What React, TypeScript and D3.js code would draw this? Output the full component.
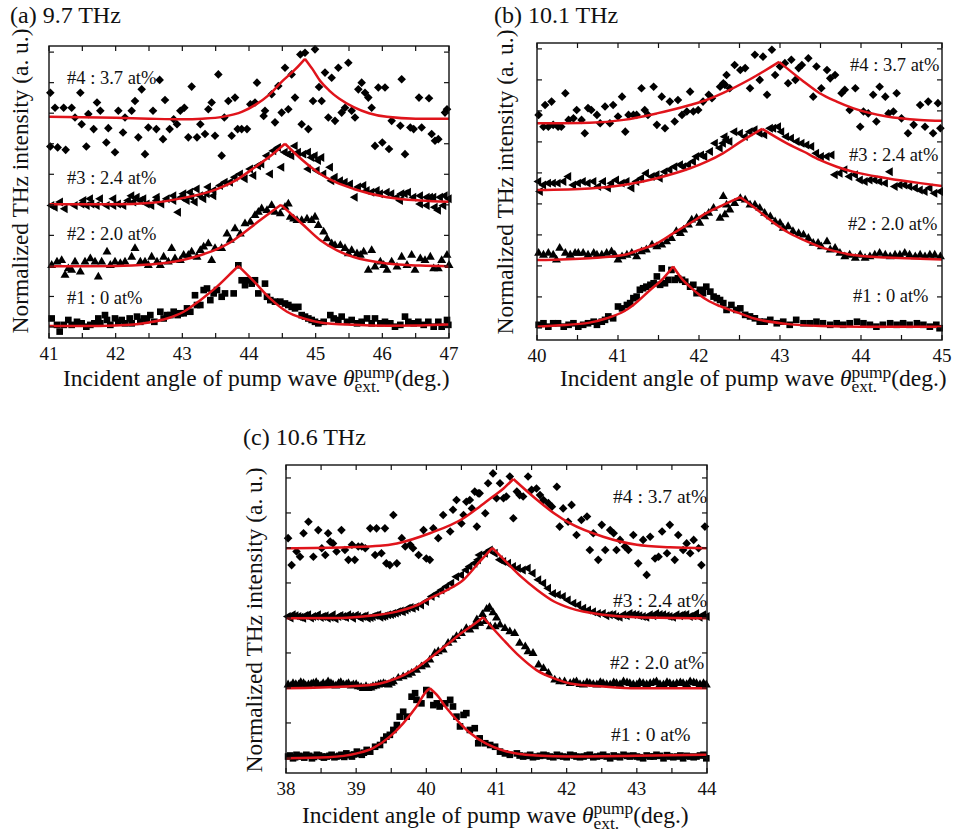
import React from "react";
import * as d3 from "d3";

type Pt = [number, number];

// ---------------- Panel (a) 9.7 THz ----------------
const a1: Pt[] = [[41.04,0.28],[41.12,0.07],[41.16,-0.15],[41.22,0.07],[41.29,0.23],[41.34,0.07],[41.42,0.17],[41.49,0.12],[41.56,0.01],[41.62,0.07],[41.68,0.12],[41.74,0.28],[41.77,0.12],[41.84,0.39],[41.87,0.23],[41.92,0.07],[41.99,0.28],[42.04,0.17],[42.09,0.23],[42.14,0.12],[42.21,0.28],[42.24,0.12],[42.32,0.34],[42.37,0.17],[42.42,0.28],[42.47,0.23],[42.52,0.39],[42.58,0.17],[42.67,0.5],[42.72,0.28],[42.77,0.39],[42.82,0.39],[42.87,0.5],[42.93,0.39],[42.97,0.45],[43.02,0.45],[43.07,0.61],[43.12,0.5],[43.19,1.04],[43.22,0.72],[43.27,0.72],[43.32,1.21],[43.37,1.26],[43.42,0.88],[43.47,1.1],[43.52,1.21],[43.59,0.99],[43.64,1.1],[43.77,1.1],[43.84,2.02],[43.89,1.53],[43.94,1.37],[43.99,1.53],[44.04,1.42],[44.09,1.53],[44.14,1.1],[44.24,1.42],[44.27,0.99],[44.32,0.88],[44.39,0.83],[44.47,0.83],[44.54,0.77],[44.59,0.72],[44.64,0.66],[44.69,0.61],[44.74,0.66],[44.79,0.39],[44.84,0.34],[44.89,0.28],[44.94,0.23],[44.99,0.17],[45.04,0.12],[45.12,0.17],[45.22,0.39],[45.27,0.28],[45.34,0.23],[45.39,0.34],[45.47,0.17],[45.54,0.23],[45.62,0.12],[45.69,0.17],[45.77,0.28],[45.84,0.12],[45.89,0.28],[45.97,0.12],[46.04,0.17],[46.12,0.12],[46.19,0.01],[46.27,0.07],[46.34,0.34],[46.39,0.17],[46.47,0.12],[46.54,0.17],[46.62,0.07],[46.69,0.17],[46.77,0.01],[46.84,0.17],[46.89,0.01],[46.97,0.23],[46.99,0.07]];
const a1FitL: Pt[] = [[41,0.03],[41.5,0.03],[42,0.05],[42.5,0.15],[42.77,0.28],[43.02,0.5],[43.27,0.88],[43.52,1.32],[43.77,1.85],[43.84,2.0]];
const a1FitR: Pt[] = [[43.84,2.0],[44.07,1.5],[44.32,0.93],[44.57,0.5],[44.82,0.28],[45.07,0.15],[45.57,0.07],[46.07,0.04],[46.57,0.05],[47,0.08]];

const a2: Pt[] = [[41.04,2.02],[41.12,2.13],[41.19,2.18],[41.24,1.7],[41.29,1.91],[41.34,1.86],[41.39,2.13],[41.47,1.8],[41.54,2.13],[41.62,2.24],[41.69,2.13],[41.74,1.64],[41.79,2.13],[41.87,2.46],[41.92,2.02],[41.99,2.13],[42.07,2.08],[42.14,2.13],[42.24,2.29],[42.29,2.57],[42.37,2.13],[42.44,2.13],[42.49,2.02],[42.54,2.29],[42.62,2.13],[42.67,2.02],[42.72,2.29],[42.79,2.13],[42.84,2.57],[42.89,2.24],[42.97,2.18],[43.02,2.35],[43.09,2.35],[43.14,2.46],[43.22,2.29],[43.27,2.51],[43.32,2.62],[43.39,2.73],[43.44,2.18],[43.49,2.57],[43.59,2.57],[43.67,3.05],[43.72,2.84],[43.79,3.22],[43.87,3.05],[43.94,3.38],[44.02,3.43],[44.09,3.65],[44.14,3.76],[44.19,3.87],[44.27,3.82],[44.34,3.98],[44.39,3.76],[44.47,3.71],[44.54,3.92],[44.59,4.03],[44.62,3.6],[44.67,3.54],[44.72,3.49],[44.79,3.49],[44.87,3.54],[44.94,3.49],[44.99,3.6],[45.04,3.33],[45.12,3.11],[45.17,2.89],[45.24,2.73],[45.29,2.67],[45.37,2.67],[45.44,2.57],[45.49,2.4],[45.54,2.51],[45.62,2.4],[45.67,2.35],[45.72,2.46],[45.79,1.86],[45.84,2.51],[45.89,1.97],[45.97,2.13],[46.02,2.02],[46.07,1.86],[46.14,2.13],[46.22,1.97],[46.29,2.29],[46.37,2.02],[46.44,2.35],[46.49,1.86],[46.57,2.24],[46.64,2.18],[46.72,2.29],[46.77,1.91],[46.84,1.91],[46.89,2.18],[46.97,2.35],[47.0,2.02]];
const a2FitL: Pt[] = [[41,1.99],[41.5,1.99],[42,2.0],[42.5,2.05],[42.77,2.1],[43.02,2.2],[43.27,2.35],[43.57,2.6],[43.77,2.84],[43.87,3.0],[44.17,3.5],[44.48,4.0]];
const a2FitR: Pt[] = [[44.48,4.0],[44.82,3.33],[45.07,2.84],[45.32,2.51],[45.57,2.29],[46.07,2.08],[46.57,2.01],[47,1.99]];

const a3: Pt[] = [[41.04,3.98],[41.09,3.92],[41.17,4.09],[41.24,3.87],[41.39,3.98],[41.49,4.03],[41.52,4.14],[41.57,3.98],[41.62,4.2],[41.64,4.03],[41.72,3.98],[41.77,4.2],[41.87,3.98],[41.97,3.98],[41.97,4.2],[42.04,4.03],[42.12,3.98],[42.19,4.14],[42.24,4.3],[42.27,4.09],[42.32,4.25],[42.37,4.14],[42.42,4.2],[42.47,4.03],[42.54,3.98],[42.62,4.14],[42.62,4.25],[42.69,4.03],[42.77,4.2],[42.87,4.14],[42.87,4.3],[42.94,3.76],[42.99,4.25],[43.02,4.36],[43.07,4.14],[43.12,4.41],[43.14,4.25],[43.19,4.09],[43.27,4.3],[43.32,4.2],[43.37,4.36],[43.47,4.3],[43.22,4.52],[43.39,4.58],[43.47,4.47],[43.57,4.63],[43.64,4.74],[43.72,4.74],[43.79,4.9],[43.87,5.01],[43.94,4.85],[44.02,5.17],[44.07,4.96],[44.14,5.28],[44.19,5.34],[44.27,5.61],[44.32,5.01],[44.37,5.77],[44.44,5.88],[44.49,5.23],[44.54,5.72],[44.59,5.66],[44.64,5.61],[44.69,5.93],[44.74,5.72],[44.82,5.66],[44.89,5.72],[44.94,5.55],[44.99,5.61],[45.04,5.45],[45.09,5.55],[44.89,5.17],[45.02,5.12],[45.12,5.01],[45.22,5.23],[45.24,4.79],[45.29,4.9],[45.37,4.79],[45.44,4.74],[45.52,4.68],[45.59,4.25],[45.64,4.58],[45.72,4.63],[45.77,4.47],[45.84,4.41],[45.92,4.47],[45.97,4.36],[46.07,4.41],[46.14,4.36],[46.22,4.25],[46.27,4.14],[46.29,4.36],[46.34,4.36],[46.39,4.41],[46.47,4.25],[46.57,4.3],[46.57,4.03],[46.67,4.25],[46.67,3.98],[46.72,4.25],[46.77,4.25],[46.79,3.92],[46.84,3.82],[46.87,4.25],[46.92,3.98],[46.94,4.3],[47.0,4.2]];
const a3FitL: Pt[] = [[41,4.02],[42,4.02],[42.5,4.06],[43,4.22],[43.5,4.5],[43.8,4.8],[44.1,5.25],[44.35,5.65],[44.54,6.0]];
const a3FitR: Pt[] = [[44.54,6.0],[44.8,5.47],[45.07,5.01],[45.3,4.74],[45.57,4.52],[46.07,4.25],[46.57,4.14],[47,4.1]];

const a4: Pt[] = [[41.02,7.67],[41.09,7.18],[41.22,7.18],[41.34,7.18],[41.47,7.67],[41.02,5.91],[41.13,5.88],[41.25,5.8],[41.39,6.86],[41.49,6.64],[41.56,5.91],[41.59,6.97],[41.67,6.48],[41.72,7.35],[41.77,7.08],[41.86,6.04],[41.89,6.51],[41.99,5.72],[42.04,7.08],[42.11,6.37],[42.14,6.86],[42.24,7.08],[42.29,7.4],[42.34,6.21],[42.39,7.78],[42.44,5.66],[42.49,6.53],[42.56,7.08],[42.61,6.48],[42.66,8.09],[42.71,6.15],[42.74,7.43],[42.81,6.48],[42.87,6.8],[42.92,6.64],[42.97,7.08],[43.03,7.18],[43.09,6.21],[43.14,7.87],[43.22,6.21],[43.27,6.64],[43.34,6.32],[43.39,7.13],[43.44,7.35],[43.49,6.26],[43.54,8.27],[43.59,5.61],[43.63,6.86],[43.69,7.4],[43.74,6.26],[43.79,7.51],[43.83,6.48],[43.89,6.48],[43.97,6.48],[44.12,8.0],[44.02,7.29],[44.09,7.35],[44.22,6.91],[44.24,7.08],[44.34,7.62],[44.39,6.7],[44.44,7.89],[44.49,7.02],[44.54,8.49],[44.59,7.13],[44.64,8.27],[44.69,7.51],[44.77,8.92],[44.84,8.98],[44.79,6.64],[44.89,6.48],[44.96,7.4],[44.99,9.09],[45.05,7.86],[45.09,7.4],[45.14,8.33],[45.19,6.86],[45.24,8.16],[45.29,6.75],[45.34,8.49],[45.39,7.02],[45.49,8.65],[45.44,7.18],[45.54,7.08],[45.59,6.86],[45.64,7.78],[45.69,8.0],[45.74,7.67],[45.79,7.51],[45.84,7.18],[45.89,5.93],[45.94,7.84],[46.0,6.04],[46.04,7.84],[46.1,5.83],[46.14,6.75],[46.27,6.59],[46.29,8.11],[46.34,5.66],[46.42,6.53],[46.47,6.48],[46.55,7.51],[46.59,6.53],[46.7,7.49],[46.74,6.32],[46.79,6.1],[46.84,6.15],[46.94,7.02],[46.97,7.13]];
const a4FitL: Pt[] = [[41,6.88],[41.5,6.87],[42,6.85],[42.5,6.82],[43,6.8],[43.3,6.82],[43.6,6.88],[43.9,7.05],[44.1,7.28],[44.3,7.6],[44.5,8.05],[44.7,8.45],[44.84,8.78]];
const a4FitR: Pt[] = [[44.84,8.78],[44.95,8.45],[45.07,8.05],[45.2,7.75],[45.35,7.48],[45.57,7.2],[45.8,7.0],[46.07,6.88],[46.5,6.82],[47,6.82]];

// ---------------- Panel (b) 10.1 THz ----------------
const b1: Pt[] = [[40.02,0.1],[40.08,0.15],[40.14,0.04],[40.2,0.15],[40.26,0.15],[40.33,0.04],[40.39,0.1],[40.45,0.15],[40.51,0.04],[40.57,0.1],[40.63,0.15],[40.7,0.2],[40.74,0.1],[40.8,0.2],[40.84,0.26],[40.88,0.37],[40.94,0.31],[41.0,0.69],[41.05,0.63],[41.11,0.74],[41.15,0.8],[41.19,0.96],[41.23,1.01],[41.27,1.23],[41.31,1.28],[41.35,1.33],[41.4,1.39],[41.44,1.44],[41.48,1.66],[41.52,1.39],[41.54,1.92],[41.58,1.44],[41.62,1.55],[41.66,1.87],[41.7,1.55],[41.74,1.6],[41.79,1.55],[41.83,1.49],[41.89,1.33],[41.93,1.39],[41.97,1.12],[42.01,1.23],[42.05,1.12],[42.09,1.33],[42.14,1.17],[42.18,1.01],[42.22,0.96],[42.26,0.9],[42.3,0.8],[42.34,0.58],[42.4,0.74],[42.46,0.58],[42.51,0.63],[42.57,0.42],[42.63,0.37],[42.69,0.31],[42.75,0.2],[42.81,0.2],[42.88,0.26],[42.96,0.15],[43.04,0.2],[43.12,0.1],[43.2,0.26],[43.29,0.15],[43.37,0.15],[43.45,0.2],[43.53,0.15],[43.62,0.1],[43.7,0.15],[43.78,0.1],[43.86,0.15],[43.95,0.2],[44.03,0.15],[44.11,0.1],[44.19,0.04],[44.27,0.1],[44.36,0.15],[44.44,0.1],[44.52,0.15],[44.6,0.1],[44.69,0.15],[44.77,0.1],[44.85,0.04],[44.93,0.1],[44.97,-0.01]];
const b1FitL: Pt[] = [[40,0.04],[40.24,0.08],[40.65,0.17],[40.86,0.31],[41.07,0.53],[41.19,0.74],[41.4,1.23],[41.56,1.6],[41.68,1.98]];
const b1FitR: Pt[] = [[41.68,1.98],[41.8,1.55],[41.9,1.3],[42.0,1.08],[42.1,0.9],[42.26,0.7],[42.47,0.5],[42.67,0.31],[43.08,0.13],[43.5,0.06],[44,0.04],[45,0.04]];

const b2: Pt[] = [[40.02,2.41],[40.08,2.35],[40.14,2.41],[40.2,2.35],[40.24,2.19],[40.28,2.57],[40.35,2.41],[40.41,2.35],[40.47,2.41],[40.51,2.41],[40.57,2.41],[40.63,2.35],[40.7,2.41],[40.74,2.35],[40.8,2.35],[40.86,2.41],[40.92,2.46],[40.96,2.35],[41.0,2.19],[41.05,2.3],[41.11,2.35],[41.17,2.41],[41.23,2.3],[41.29,2.46],[41.35,2.52],[41.42,2.68],[41.48,2.62],[41.54,2.68],[41.6,2.78],[41.66,2.89],[41.72,3.11],[41.77,3.05],[41.81,3.16],[41.87,3.32],[41.91,3.48],[41.97,3.54],[42.01,3.38],[42.07,3.59],[42.12,3.7],[42.18,3.86],[42.26,3.54],[42.3,4.24],[42.34,3.97],[42.32,3.65],[42.38,3.81],[42.44,4.02],[42.51,4.18],[42.57,4.13],[42.63,3.97],[42.69,3.97],[42.75,3.86],[42.81,3.7],[42.88,3.59],[42.94,3.43],[43.0,3.38],[43.04,3.22],[43.1,3.27],[43.16,3.11],[43.23,3.05],[43.29,3.0],[43.35,2.89],[43.41,2.73],[43.47,2.73],[43.51,2.62],[43.58,2.78],[43.62,2.52],[43.68,2.57],[43.74,2.41],[43.8,2.3],[43.86,2.35],[43.93,2.25],[43.99,2.35],[44.05,2.25],[44.11,2.3],[44.17,2.35],[44.23,2.41],[44.3,2.35],[44.36,2.3],[44.42,2.35],[44.48,2.35],[44.54,2.41],[44.6,2.35],[44.67,2.3],[44.73,2.35],[44.79,2.3],[44.85,2.35],[44.91,2.35],[44.98,2.3]];
const b2FitL: Pt[] = [[40,2.19],[40.65,2.25],[41.07,2.35],[41.27,2.52],[41.48,2.73],[41.68,3.05],[41.89,3.38],[42.09,3.7],[42.3,3.97],[42.51,4.22]];
const b2FitR: Pt[] = [[42.51,4.22],[42.67,3.91],[42.88,3.48],[43.08,3.11],[43.29,2.84],[43.49,2.62],[43.7,2.46],[43.9,2.35],[44.32,2.27],[44.73,2.23],[45,2.21]];

const b3: Pt[] = [[40.02,4.72],[40.04,4.4],[40.08,4.61],[40.14,4.67],[40.2,4.67],[40.26,4.67],[40.33,4.72],[40.39,4.88],[40.45,4.61],[40.51,4.67],[40.57,4.72],[40.63,4.67],[40.7,4.72],[40.76,4.56],[40.82,4.72],[40.88,4.51],[40.92,4.67],[40.98,4.77],[41.05,4.67],[41.11,4.72],[41.17,4.51],[41.23,4.72],[41.29,4.83],[41.35,4.99],[41.42,4.88],[41.48,4.94],[41.52,4.83],[41.58,5.04],[41.64,5.1],[41.7,5.2],[41.77,5.26],[41.81,5.2],[41.87,5.26],[41.93,5.37],[41.97,5.53],[42.03,5.58],[42.07,5.53],[42.14,5.69],[42.2,5.96],[42.26,5.8],[42.3,5.96],[42.34,6.06],[42.32,6.17],[42.38,6.01],[42.44,6.33],[42.51,6.28],[42.57,6.17],[42.63,6.33],[42.69,6.39],[42.75,6.28],[42.81,6.23],[42.88,6.44],[42.92,6.44],[42.98,6.49],[43.02,6.33],[43.08,6.17],[43.14,6.12],[43.21,6.01],[43.27,5.96],[43.33,5.9],[43.39,5.85],[43.45,5.63],[43.51,5.53],[43.58,5.53],[43.64,5.58],[43.68,4.94],[43.74,4.99],[43.8,5.1],[43.86,4.88],[43.93,4.94],[43.99,4.77],[44.05,4.72],[44.11,4.77],[44.17,4.77],[44.23,4.72],[44.3,4.67],[44.36,5.04],[44.42,4.56],[44.48,4.61],[44.54,4.61],[44.6,4.56],[44.67,4.51],[44.73,4.45],[44.79,4.4],[44.85,4.51],[44.91,4.34],[44.98,4.4]];
const b3FitL: Pt[] = [[40,4.45],[40.65,4.5],[41.07,4.61],[41.48,4.83],[41.89,5.15],[42.1,5.37],[42.3,5.64],[42.51,6.0],[42.78,6.42]];
const b3FitR: Pt[] = [[42.78,6.42],[43.08,5.96],[43.29,5.69],[43.49,5.42],[43.7,5.2],[43.9,5.04],[44.32,4.83],[44.73,4.67],[45,4.58]];

const b4: Pt[] = [[40.02,6.87],[40.08,6.49],[40.14,6.49],[40.2,6.55],[40.26,6.49],[40.3,6.49],[40.1,7.19],[40.18,7.3],[40.35,7.57],[40.39,6.71],[40.45,6.76],[40.49,7.03],[40.55,6.71],[40.59,6.28],[40.63,7.09],[40.67,7.03],[40.74,6.87],[40.78,6.6],[40.84,7.14],[40.9,6.6],[40.94,7.19],[41.0,6.82],[41.05,7.46],[41.09,6.33],[41.13,6.87],[41.19,6.87],[41.23,6.87],[41.29,7.73],[41.33,7.03],[41.37,6.87],[41.44,7.78],[41.48,6.55],[41.54,7.46],[41.58,6.44],[41.64,7.3],[41.7,6.66],[41.74,7.35],[41.79,6.87],[41.85,6.98],[41.89,7.62],[41.93,6.98],[41.99,7.03],[42.05,7.3],[42.12,7.52],[42.16,7.41],[42.26,7.78],[42.3,7.89],[42.34,8.16],[42.32,7.84],[42.38,7.73],[42.44,8.48],[42.51,8.32],[42.57,8.38],[42.63,7.73],[42.69,8.81],[42.75,8.0],[42.79,8.75],[42.84,7.52],[42.9,8.97],[42.94,8.16],[43.0,8.43],[43.06,8.54],[43.1,7.89],[43.14,8.65],[43.19,8.0],[43.23,8.38],[43.27,8.48],[43.35,8.7],[43.41,7.46],[43.45,8.43],[43.51,7.73],[43.58,8.32],[43.62,8.05],[43.68,8.16],[43.76,7.57],[43.8,7.68],[43.86,7.03],[43.93,7.73],[43.99,6.49],[44.03,6.98],[44.09,6.92],[44.15,7.52],[44.19,6.66],[44.23,7.78],[44.3,7.46],[44.34,6.92],[44.4,6.98],[44.44,7.57],[44.5,6.76],[44.58,6.28],[44.65,6.55],[44.73,7.19],[44.79,6.49],[44.83,7.3],[44.89,6.28],[44.95,7.25],[44.98,6.44]];
const b4FitL: Pt[] = [[40,6.6],[40.65,6.62],[41.07,6.71],[41.48,6.92],[41.89,7.19],[42.1,7.36],[42.3,7.58],[42.63,8.02],[42.99,8.58]];
const b4FitR: Pt[] = [[42.99,8.58],[43.29,7.95],[43.49,7.57],[43.7,7.3],[43.9,7.09],[44.32,6.82],[44.73,6.71],[45,6.68]];

// ---------------- Panel (c) 10.6 THz ----------------
const c1: Pt[] = [[38.03,0.04],[38.06,0.07],[38.1,-0.01],[38.13,0.02],[38.15,0.09],[38.19,0.06],[38.22,0.04],[38.26,0.01],[38.29,0.09],[38.33,0.06],[38.37,-0.01],[38.4,0.03],[38.44,0.09],[38.47,0.07],[38.51,0.04],[38.54,0.01],[38.58,0.04],[38.62,0.06],[38.65,0.09],[38.69,0.02],[38.72,0.04],[38.76,0.06],[38.79,0.09],[38.83,0.03],[38.86,0.13],[38.9,0.08],[38.94,0.04],[38.97,0.1],[39.01,0.18],[39.04,0.12],[39.08,0.09],[39.11,0.15],[39.15,0.23],[39.2,0.18],[39.27,0.32],[39.34,0.37],[39.39,0.51],[39.43,0.61],[39.48,0.66],[39.53,0.8],[39.58,0.94],[39.62,1.18],[39.67,1.32],[39.72,1.18],[39.79,1.75],[39.84,1.85],[39.86,1.66],[39.93,1.56],[40.0,1.94],[40.05,1.8],[40.1,1.51],[40.15,1.56],[40.19,1.47],[40.27,1.56],[40.34,1.66],[40.38,1.47],[40.43,1.18],[40.48,0.9],[40.53,1.23],[40.57,1.28],[40.62,0.8],[40.69,0.85],[40.74,0.42],[40.76,0.56],[40.84,0.42],[40.91,0.37],[40.98,0.32],[41.05,0.18],[41.12,0.13],[41.19,0.09],[41.29,0.13],[41.33,0.07],[41.38,0.04],[41.43,0.06],[41.48,0.09],[41.52,0.02],[41.57,0.04],[41.62,0.06],[41.67,0.09],[41.71,0.07],[41.76,0.04],[41.81,0.02],[41.86,0.09],[41.9,0.06],[41.95,0.04],[42.0,0.02],[42.05,0.09],[42.1,0.07],[42.14,0.04],[42.19,0.02],[42.24,0.04],[42.29,0.07],[42.33,0.09],[42.38,0.02],[42.43,0.04],[42.48,0.06],[42.52,0.09],[42.57,0.04],[42.62,-0.01],[42.67,0.07],[42.71,0.04],[42.76,0.02],[42.81,0.09],[42.86,0.06],[42.9,0.04],[42.95,0.07],[43.0,0.04],[43.04,0.02],[43.09,-0.01],[43.14,0.07],[43.19,0.04],[43.24,0.04],[43.28,0.09],[43.33,0.06],[43.38,-0.01],[43.43,0.08],[43.47,0.04],[43.52,0.02],[43.57,0.04],[43.62,0.07],[43.66,-0.01],[43.71,0.06],[43.76,0.04],[43.81,0.02],[43.85,0.04],[43.9,0.07],[43.95,0.09],[43.99,-0.01]];
const c1FitL: Pt[] = [[38,-0.01],[38.6,0.02],[39.01,0.13],[39.24,0.28],[39.48,0.61],[39.67,0.99],[39.86,1.47],[40.0,1.9],[40.05,1.99]];
const c1FitR: Pt[] = [[40.05,1.99],[40.15,1.8],[40.29,1.42],[40.48,0.99],[40.62,0.72],[40.86,0.4],[41.1,0.21],[41.33,0.11],[41.57,0.07],[42.05,0.04],[43,0.06],[44,0.09]];

const c2: Pt[] = [[38.03,2.09],[38.07,2.06],[38.1,2.13],[38.14,2.1],[38.18,2.09],[38.21,2.16],[38.25,2.13],[38.28,2.07],[38.32,2.09],[38.36,2.11],[38.39,2.13],[38.43,2.16],[38.46,2.09],[38.5,2.07],[38.53,2.13],[38.57,2.1],[38.6,2.18],[38.64,2.13],[38.67,2.09],[38.71,2.06],[38.75,2.13],[38.78,2.16],[38.82,2.09],[38.86,2.1],[38.89,2.13],[38.93,2.06],[38.96,2.09],[39.0,2.1],[39.03,2.04],[39.07,2.02],[39.1,1.99],[39.14,2.04],[39.17,1.99],[39.21,2.0],[39.24,2.04],[39.28,2.06],[39.32,2.09],[39.35,2.11],[39.39,2.13],[39.42,2.1],[39.46,2.09],[39.5,2.14],[39.53,2.18],[39.6,2.28],[39.67,2.32],[39.74,2.37],[39.79,2.42],[39.86,2.51],[39.93,2.61],[40.0,2.66],[40.05,2.8],[40.12,2.99],[40.17,3.04],[40.24,3.09],[40.31,3.28],[40.38,3.37],[40.43,3.47],[40.5,3.56],[40.57,3.7],[40.62,3.66],[40.69,3.75],[40.74,3.85],[40.72,3.95],[40.8,4.1],[40.86,4.25],[40.9,4.3],[40.95,4.15],[41.0,4.0],[40.69,3.8],[40.76,3.85],[40.84,3.9],[40.91,3.75],[40.98,3.75],[41.05,3.8],[41.12,3.7],[41.19,3.61],[41.26,3.56],[41.33,3.28],[41.41,3.18],[41.45,3.04],[41.52,2.99],[41.6,2.66],[41.67,2.56],[41.74,2.42],[41.83,2.23],[41.9,2.18],[41.97,2.18],[42.05,2.13],[42.1,2.16],[42.14,2.18],[42.19,2.1],[42.24,2.09],[42.29,2.15],[42.33,2.13],[42.38,2.1],[42.43,2.09],[42.48,2.16],[42.52,2.13],[42.57,2.1],[42.62,2.09],[42.67,2.15],[42.71,2.13],[42.76,2.1],[42.81,2.18],[42.86,2.15],[42.9,2.13],[42.95,2.1],[43.0,2.09],[43.04,2.16],[43.09,2.13],[43.14,2.1],[43.19,2.13],[43.24,2.15],[43.28,2.18],[43.33,2.1],[43.38,2.09],[43.43,2.16],[43.47,2.13],[43.52,2.1],[43.57,2.13],[43.62,2.15],[43.66,2.13],[43.71,2.1],[43.76,2.18],[43.81,2.15],[43.85,2.13],[43.9,2.1],[43.95,2.13],[43.99,2.09]];
const c2FitL: Pt[] = [[38,1.99],[38.86,2.04],[39.34,2.13],[39.58,2.28],[39.81,2.51],[40.05,2.85],[40.29,3.23],[40.53,3.61],[40.7,3.85],[40.81,4.02]];
const c2FitR: Pt[] = [[40.81,4.02],[41.1,3.37],[41.33,2.9],[41.57,2.51],[41.81,2.28],[42.05,2.13],[42.52,2.04],[43,1.99],[44,1.99]];

const c3: Pt[] = [[38.03,4.04],[38.07,4.0],[38.1,4.09],[38.14,4.06],[38.18,4.04],[38.21,4.02],[38.25,3.99],[38.28,4.07],[38.32,4.09],[38.36,4.0],[38.39,4.04],[38.43,4.05],[38.46,4.09],[38.5,4.01],[38.53,4.04],[38.57,4.06],[38.6,3.99],[38.64,4.02],[38.67,4.09],[38.71,3.98],[38.75,4.04],[38.78,4.07],[38.82,4.04],[38.86,4.01],[38.89,4.09],[38.93,4.05],[38.96,3.99],[39.0,4.08],[39.03,4.04],[39.07,4.0],[39.1,4.04],[39.14,4.06],[39.17,3.99],[39.21,4.01],[39.24,4.04],[39.28,4.07],[39.32,4.09],[39.35,4.02],[39.39,4.04],[39.42,4.06],[39.46,4.09],[39.5,4.1],[39.53,4.13],[39.57,4.14],[39.6,4.18],[39.64,4.2],[39.67,4.18],[39.71,4.23],[39.74,4.28],[39.78,4.3],[39.81,4.28],[39.86,4.32],[39.93,4.37],[40.0,4.47],[40.08,4.61],[40.15,4.7],[40.22,4.8],[40.29,4.9],[40.36,4.99],[40.43,5.18],[40.5,5.23],[40.57,5.37],[40.62,5.47],[40.69,5.56],[40.74,5.66],[40.76,5.8],[40.84,5.85],[40.91,5.94],[40.98,5.85],[41.05,5.66],[41.1,5.61],[41.17,5.56],[41.24,5.47],[41.31,5.42],[41.38,5.37],[41.45,5.42],[41.52,5.28],[41.6,5.09],[41.67,4.99],[41.74,4.85],[41.81,4.7],[41.88,4.66],[41.95,4.61],[42.02,4.51],[42.1,4.42],[42.17,4.37],[42.24,4.28],[42.31,4.23],[42.38,4.18],[42.45,4.13],[42.52,4.13],[42.57,4.06],[42.62,4.09],[42.67,4.1],[42.71,4.04],[42.76,4.02],[42.81,4.09],[42.86,4.06],[42.9,4.13],[42.95,4.1],[43.0,4.09],[43.04,4.06],[43.09,4.04],[43.14,4.02],[43.19,4.09],[43.24,4.06],[43.28,4.13],[43.33,4.1],[43.38,4.09],[43.43,4.06],[43.47,4.04],[43.52,4.02],[43.57,4.09],[43.62,4.06],[43.66,4.09],[43.71,4.1],[43.76,4.04],[43.81,4.06],[43.85,4.13],[43.9,4.02],[43.95,4.09],[44.0,4.04]];
const c3FitL: Pt[] = [[38,3.99],[38.8,4.0],[39.1,4.04],[39.58,4.18],[39.85,4.35],[40.05,4.56],[40.3,4.8],[40.53,5.09],[40.76,5.61],[40.94,6.0]];
const c3FitR: Pt[] = [[40.94,6.0],[41.11,5.66],[41.35,5.18],[41.58,4.8],[41.82,4.47],[42.05,4.28],[42.52,4.09],[43,4.02],[44,3.99]];

const c4: Pt[] = [[38.03,6.28],[38.08,5.51],[38.15,5.9],[38.2,5.75],[38.25,6.42],[38.32,6.75],[38.39,5.75],[38.46,6.51],[38.51,5.99],[38.56,5.8],[38.6,6.42],[38.63,6.18],[38.67,6.13],[38.72,5.9],[38.79,6.51],[38.84,5.94],[38.89,5.66],[38.94,6.09],[38.98,5.66],[39.03,6.04],[39.08,6.04],[39.13,5.99],[39.2,6.56],[39.27,5.8],[39.29,6.56],[39.36,5.85],[39.41,6.56],[39.43,5.56],[39.48,5.51],[39.53,6.94],[39.58,5.56],[39.65,6.28],[39.7,6.04],[39.77,6.09],[39.81,5.99],[39.89,5.8],[39.96,6.51],[40.0,5.7],[40.05,5.66],[40.1,6.56],[40.17,6.28],[40.24,6.94],[40.34,6.47],[40.38,7.09],[40.43,7.37],[40.5,6.7],[40.53,6.94],[40.57,7.32],[40.65,7.13],[40.72,6.61],[40.74,7.56],[40.62,7.37],[40.69,7.61],[40.76,7.56],[40.84,6.99],[40.88,7.85],[40.95,8.13],[41.0,7.42],[41.05,7.85],[41.1,7.42],[41.14,7.47],[41.19,8.04],[41.24,6.85],[41.29,7.61],[41.33,7.51],[41.38,7.47],[41.45,8.04],[41.5,7.66],[41.57,7.7],[41.62,7.51],[41.67,7.37],[41.74,7.28],[41.79,7.18],[41.86,7.75],[41.9,6.61],[41.95,7.13],[42.02,6.75],[42.07,7.23],[42.14,6.37],[42.21,6.8],[42.29,6.9],[42.33,5.94],[42.38,6.42],[42.45,5.66],[42.5,6.66],[42.55,5.94],[42.62,6.51],[42.67,6.42],[42.71,5.94],[42.76,6.23],[42.83,6.04],[42.88,5.94],[42.95,6.37],[43.02,5.56],[43.09,6.23],[43.14,5.23],[43.19,6.32],[43.26,5.7],[43.31,5.75],[43.36,6.47],[43.43,5.85],[43.47,6.66],[43.54,5.66],[43.59,6.37],[43.66,5.94],[43.71,6.13],[43.76,5.85],[43.81,6.23],[43.88,5.99],[43.92,5.51],[43.97,6.61]];
const c4FitL: Pt[] = [[38,5.99],[38.86,6.02],[39.34,6.06],[39.58,6.13],[40.05,6.42],[40.53,6.85],[40.76,7.18],[40.95,7.47],[41.1,7.7],[41.24,7.97]];
const c4FitR: Pt[] = [[41.24,7.97],[41.58,7.37],[41.82,6.99],[42.05,6.7],[42.52,6.32],[43,6.09],[43.47,6.02],[44,5.99]];

// ---------------- Axis ticks and labels ----------------
const xTicksA = [41, 41.5, 42, 42.5, 43, 43.5, 44, 44.5, 45, 45.5, 46, 46.5, 47];
const xLabelsA = [41, 42, 43, 44, 45, 46, 47];
const xTicksB = [40, 40.5, 41, 41.5, 42, 42.5, 43, 43.5, 44, 44.5, 45];
const xLabelsB = [40, 41, 42, 43, 44, 45];
const xTicksC = [38, 38.5, 39, 39.5, 40, 40.5, 41, 41.5, 42, 42.5, 43, 43.5, 44];
const xLabelsC = [38, 39, 40, 41, 42, 43, 44];
const yTicksA = [0, 1, 2, 3, 4, 5, 6, 7, 8, 9];
const yTicksB = [0, 1, 2, 3, 4, 5, 6, 7, 8, 9];
const yTicksC = [0, 1, 2, 3, 4, 5, 6, 7, 8];

const titles = ["(a) 9.7 THz", "(b) 10.1 THz", "(c) 10.6 THz"];
const sampleLabels = ["#1 : 0 at%", "#2 : 2.0 at%", "#3 : 2.4 at%", "#4 : 3.7 at%"];
const yAxisTitle = "Normalized THz intensity (a. u.)";

const FONT = "'Liberation Serif', 'Times New Roman', Times, serif";
const RED = "#e0141b";

const sqPath = d3.symbol().type(d3.symbolSquare).size(44)() as string;
const triPath = d3.symbol().type(d3.symbolTriangle).size(35)() as string;
const diaPath = d3.symbol().type(d3.symbolSquare).size(37)() as string;

function Marker({ kind, cx, cy }: { kind: number; cx: number; cy: number }) {
  if (kind === 0) return <path d={sqPath} transform={`translate(${cx},${cy})`} fill="#000" />;
  if (kind === 1) return <path d={triPath} transform={`translate(${cx},${cy})`} fill="#000" />;
  if (kind === 2) return <path d={triPath} transform={`translate(${cx},${cy}) rotate(-90)`} fill="#000" />;
  return <path d={diaPath} transform={`translate(${cx},${cy}) rotate(45)`} fill="#000" />;
}

type PanelCfg = {
  left: number; right: number; top: number; bottom: number;
  xDomain: [number, number]; yDomain: [number, number];
  xTicks: number[]; xLabels: number[]; yTicks: number[];
  series: Pt[][]; fits: [Pt[], Pt[]][];
  title: string; titleX: number; titleY: number;
  yLabX: number; yLabY: number; xLabX: number; xLabY: number; tickLabY: number;
  supDy: number;
  labelPos: [number, number][]; labelSize: number;
};

const panels: PanelCfg[] = [
  {
    left: 49, right: 449, top: 46, bottom: 338,
    xDomain: [41, 47], yDomain: [-0.36, 9.2],
    xTicks: xTicksA, xLabels: xLabelsA, yTicks: yTicksA,
    series: [a1, a2, a3, a4],
    fits: [[a1FitL, a1FitR], [a2FitL, a2FitR], [a3FitL, a3FitR], [a4FitL, a4FitR]],
    title: titles[0], titleX: 10, titleY: 23,
    yLabX: 28, yLabY: 181, xLabX: 63, xLabY: 386, tickLabY: 360, supDy: -8,
    labelPos: [[67, 304], [67, 240], [67, 184], [67, 84]], labelSize: 18.5,
  },
  {
    left: 537, right: 942, top: 43, bottom: 340,
    xDomain: [40, 45], yDomain: [-0.39, 9.19],
    xTicks: xTicksB, xLabels: xLabelsB, yTicks: yTicksB,
    series: [b1, b2, b3, b4],
    fits: [[b1FitL, b1FitR], [b2FitL, b2FitR], [b3FitL, b3FitR], [b4FitL, b4FitR]],
    title: titles[1], titleX: 494, titleY: 23,
    yLabX: 513, yLabY: 182, xLabX: 560, xLabY: 386, tickLabY: 362, supDy: -8,
    labelPos: [[853, 302], [848, 230], [849, 161], [850, 71]], labelSize: 18.5,
  },
  {
    left: 286, right: 707, top: 465, bottom: 773,
    xDomain: [38, 44], yDomain: [-0.43, 8.37],
    xTicks: xTicksC, xLabels: xLabelsC, yTicks: yTicksC,
    series: [c1, c2, c3, c4],
    fits: [[c1FitL, c1FitR], [c2FitL, c2FitR], [c3FitL, c3FitR], [c4FitL, c4FitR]],
    title: titles[2], titleX: 243, titleY: 445,
    yLabX: 262, yLabY: 620, xLabX: 302, xLabY: 823, tickLabY: 795, supDy: -9,
    labelPos: [[611, 741], [610, 669], [613, 607], [613, 503]], labelSize: 19.5,
  },
];

function Panel({ p }: { p: PanelCfg }) {
  const x = d3.scaleLinear().domain(p.xDomain).range([p.left, p.right]);
  const y = d3.scaleLinear().domain(p.yDomain).range([p.bottom, p.top]);
  const line = d3.line<Pt>().x((d) => x(d[0])).y((d) => y(d[1])).curve(d3.curveMonotoneX);
  const tl = 5;
  return (
    <g>
      {p.series.map((s, si) => (
        <g key={si}>
          {s.map((d, i) => (
            <Marker key={i} kind={si} cx={x(d[0])} cy={y(d[1])} />
          ))}
        </g>
      ))}
      {p.fits.map((f, fi) => (
        <g key={fi}>
          <path d={line(f[0]) as string} fill="none" stroke={RED} strokeWidth={2.5} strokeLinejoin="round" />
          <path d={line(f[1]) as string} fill="none" stroke={RED} strokeWidth={2.5} strokeLinejoin="round" />
        </g>
      ))}
      <rect x={p.left} y={p.top} width={p.right - p.left} height={p.bottom - p.top} fill="none" stroke="#111" strokeWidth={1.4} />
      {p.xTicks.map((t) => (
        <g key={"xt" + t}>
          <line x1={x(t)} x2={x(t)} y1={p.bottom} y2={p.bottom - tl} stroke="#111" strokeWidth={1.2} />
          <line x1={x(t)} x2={x(t)} y1={p.top} y2={p.top + tl} stroke="#111" strokeWidth={1.2} />
        </g>
      ))}
      {p.yTicks.map((t) => (
        <g key={"yt" + t}>
          <line x1={p.left} x2={p.left + tl} y1={y(t)} y2={y(t)} stroke="#111" strokeWidth={1.2} />
          <line x1={p.right} x2={p.right - tl} y1={y(t)} y2={y(t)} stroke="#111" strokeWidth={1.2} />
        </g>
      ))}
      {p.xLabels.map((t) => (
        <text key={"xl" + t} x={x(t)} y={p.tickLabY} fontSize={19} textAnchor="middle" fill="#111">
          {t}
        </text>
      ))}
      {sampleLabels.map((lab, i) => (
        <text key={"sl" + i} x={p.labelPos[i][0]} y={p.labelPos[i][1]} fontSize={p.labelSize} fill="#111">
          {lab}
        </text>
      ))}
      <text x={p.titleX} y={p.titleY} fontSize={24} fill="#111">{p.title}</text>
      <text
        transform={`translate(${p.yLabX},${p.yLabY}) rotate(-90)`}
        fontSize={23.4}
        textAnchor="middle"
        fill="#111"
      >
        {yAxisTitle}
      </text>
      <text x={p.xLabX} y={p.xLabY} fontSize={23.5} fill="#111">
        {"Incident angle of pump wave "}
        <tspan fontStyle="italic">{"\u03b8"}</tspan>
        <tspan fontSize={17.5} dy={p.supDy}>{"pump"}</tspan>
        <tspan fontSize={17.5} dx={-40} dy={-p.supDy + 6}>{"ext."}</tspan>
        <tspan dx={14} dy={-6}>{"(deg.)"}</tspan>
      </text>
    </g>
  );
}

export default function App() {
  return (
    <svg
      width={953}
      height={837}
      style={{ position: "absolute", left: 0, top: 0, background: "#fff", fontFamily: FONT }}
      fontFamily={FONT}
    >
      <rect x={0} y={0} width={953} height={837} fill="#fff" />
      {panels.map((p, i) => (
        <Panel key={i} p={p} />
      ))}
    </svg>
  );
}
